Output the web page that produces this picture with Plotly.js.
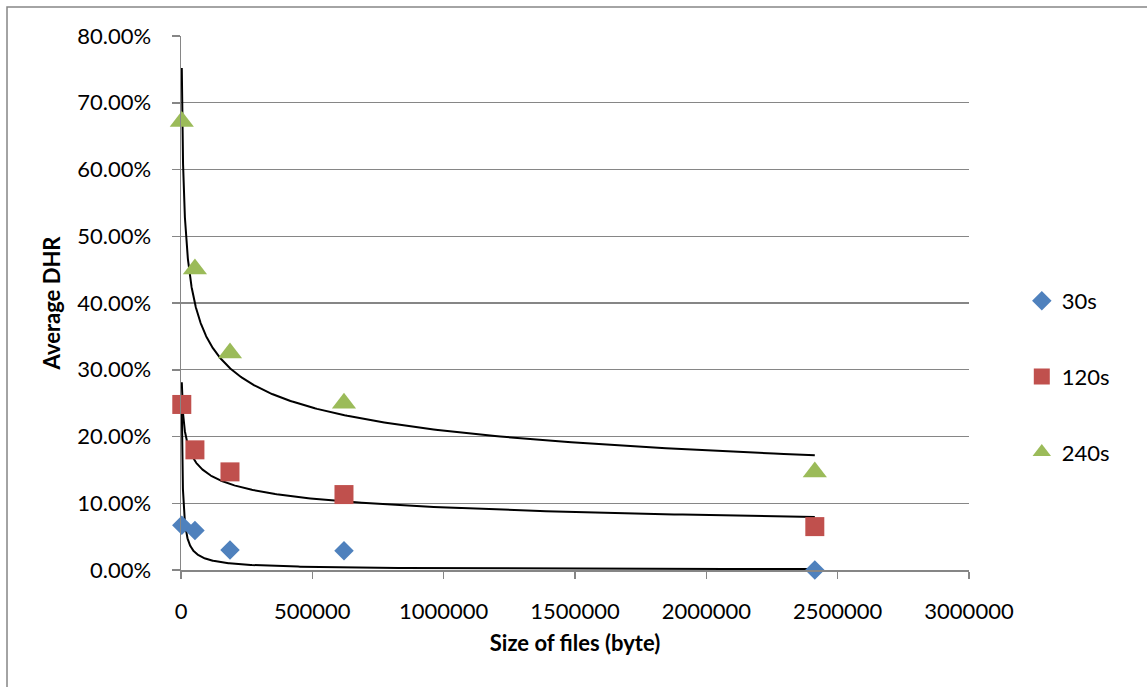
<!DOCTYPE html>
<html>
<head>
<meta charset="utf-8">
<script src="https://cdn.plot.ly/plotly-3.0.1.min.js"></script>
<style>html,body{margin:0;padding:0;background:#fff;}#chart{width:1147px;height:687px;}</style>
</head>
<body>
<div id="chart"></div>
<script>
// File sizes (byte)
const fileSizes = [3000, 53000, 186500, 620500, 2413000];
// Average DHR per expiry time
const dhr30s  = [0.067, 0.059, 0.030, 0.029, 0.0001];
const dhr120s = [0.248, 0.180, 0.147, 0.113, 0.065];
const dhr240s = [0.672, 0.451, 0.325, 0.250, 0.147];
const seriesNames = ['30s', '120s', '240s'];
const yTickVals = [0, 0.1, 0.2, 0.3, 0.4, 0.5, 0.6, 0.7, 0.8];
const xTickVals = [0, 500000, 1000000, 1500000, 2000000, 2500000, 3000000];

const colors = ['#4F81BD', '#C0504D', '#9BBB59'];
const symbols = ['diamond', 'square', 'triangle-up'];
const sizes = [15, 19, 21];
const seriesData = [dhr30s, dhr120s, dhr240s];

// Power trendline (least squares in log-log space, as a spreadsheet power trendline)
function powerFit(xs, ys) {
  const lx = xs.map(Math.log), ly = ys.map(Math.log);
  const n = xs.length;
  const mx = lx.reduce((a, b) => a + b, 0) / n;
  const my = ly.reduce((a, b) => a + b, 0) / n;
  let sxy = 0, sxx = 0;
  for (let i = 0; i < n; i++) { sxy += (lx[i] - mx) * (ly[i] - my); sxx += (lx[i] - mx) ** 2; }
  const b = sxy / sxx;
  const a = Math.exp(my - b * mx);
  return { a, b };
}

const xMin = Math.min(...fileSizes), xMax = Math.max(...fileSizes);
const curveX = [];
const N = 400;
for (let i = 0; i <= N; i++) {
  curveX.push(Math.exp(Math.log(xMin) + (Math.log(xMax) - Math.log(xMin)) * i / N));
}

const traces = [];
seriesData.forEach((ys, k) => {
  const fit = powerFit(fileSizes, ys);
  traces.push({
    x: curveX, y: curveX.map(x => fit.a * Math.pow(x, fit.b)),
    type: 'scatter', mode: 'lines', showlegend: false, hoverinfo: 'skip',
    line: { color: '#000000', width: 2 }, cliponaxis: true
  });
});
seriesData.forEach((ys, k) => {
  traces.push({
    x: fileSizes, y: ys, name: seriesNames[k], legendgroup: 'g' + k,
    type: 'scatter', mode: 'markers', cliponaxis: false,
    marker: { symbol: symbols[k], size: sizes[k], color: colors[k], line: { width: 0 } }
  });
});

const font = { family: 'Lato, "Open Sans", sans-serif', size: 22, color: '#000000' };
const layout = {
  width: 1147, height: 687,
  margin: { l: 181, r: 178, t: 36, b: 117 },
  paper_bgcolor: '#ffffff', plot_bgcolor: '#ffffff',
  font: font,
  showlegend: true,
  legend: {
    x: 1.067, y: 0.543, xanchor: 'left', yanchor: 'top',
    traceorder: 'grouped', tracegroupgap: 44,
    font: font, bgcolor: 'rgba(0,0,0,0)', itemwidth: 30
  },
  xaxis: {
    range: [0, 3000000], tickvals: xTickVals, tickformat: 'd',
    showgrid: false, zeroline: false,
    showline: true, linecolor: '#868686', linewidth: 1.5,
    ticks: 'outside', ticklen: 7, tickcolor: '#868686', tickwidth: 1.5,
    ticklabelstandoff: 14,
    tickfont: font,
    title: { text: '<b>Size of files (byte)</b>', font: font, standoff: 12 }
  },
  yaxis: {
    range: [0, 0.8], tickvals: yTickVals, tickformat: '.2%',
    showgrid: true, gridcolor: '#868686', gridwidth: 1.2, zeroline: false,
    showline: true, linecolor: '#868686', linewidth: 1.5,
    ticks: 'outside', ticklen: 8, tickcolor: '#868686', tickwidth: 1.5,
    ticklabelstandoff: 16,
    tickfont: font,
    title: { text: '<b>Average DHR</b>', font: font, standoff: 10 }
  },
  shapes: [{
    type: 'rect', xref: 'paper', yref: 'paper',
    x0: -0.2208, x1: 2, y0: -1, y1: 1.0543,
    line: { color: '#868686', width: 1.5 }, fillcolor: 'rgba(0,0,0,0)', layer: 'below'
  }]
};

Plotly.newPlot('chart', traces, layout, { staticPlot: true, displayModeBar: false });
</script>
</body>
</html>
